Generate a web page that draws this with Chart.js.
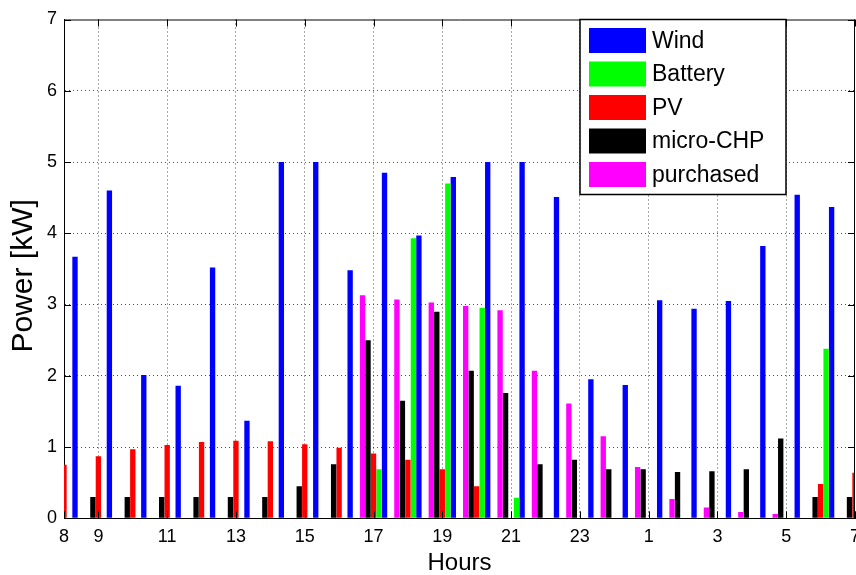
<!DOCTYPE html>
<html>
<head>
<meta charset="utf-8">
<script src="https://cdn.jsdelivr.net/npm/chart.js@4.4.1/dist/chart.umd.min.js"></script>
<style>
html,body{margin:0;padding:0;background:#fff;overflow:hidden}
#wrap{width:856px;height:575px;position:relative}
</style>
</head>
<body>
<div id="wrap"><canvas id="c" width="856" height="575"></canvas></div>
<script>
// ---- data ----
const hours = [8,9,10,11,12,13,14,15,16,17,18,19,20,21,22,23,24,25,26,27,28,29,30,31];
const hourLabels = hours.map(h => String(h % 24));
const xTickHours = [8,9,11,13,15,17,19,21,23,25,27,29,31];
const yTicks = [0,1,2,3,4,5,6,7];

const wind      = [3.67,4.60,2.01,1.86,3.52,1.37,5.00,5.00,3.48,4.85,3.97,4.79,5.00,5.00,4.51,1.95,1.87,3.06,2.94,3.05,3.82,4.54,4.37,4.20];
const battery   = [0,0,0,0,0,0,0,0,0,0.69,3.93,4.70,2.95,0.29,0,0,0,0,0,0,0,0,2.38,0];
const pv        = [0.75,0.87,0.97,1.03,1.07,1.09,1.08,1.04,0.99,0.91,0.82,0.69,0.45,0,0,0,0,0,0,0,0,0,0.48,0.64];
const microCHP  = [0.30,0.30,0.30,0.30,0.30,0.30,0.30,0.45,0.76,2.50,1.65,2.90,2.07,1.76,0.76,0.82,0.69,0.69,0.65,0.66,0.69,1.12,0.30,0.30];
const purchased = [0,0,0,0,0,0,0,0,0,3.13,3.07,3.03,2.98,2.92,2.07,1.61,1.15,0.72,0.27,0.15,0.09,0.06,0,0];

const FONT = '"Liberation Sans", Arial, Helvetica, sans-serif';
const GRID = 'rgba(60,60,60,0.9)';
const Y_TITLE = 'Power [kW]';

const isMajor = i => xTickHours.includes(hours[i]);

// MATLAB-like box, inner ticks
const boxPlugin = {
  id: 'matlabBox',
  afterDatasetsDraw(chart) {
    const {ctx, chartArea: a, scales} = chart;
    ctx.save();
    ctx.strokeStyle = '#000';
    ctx.lineWidth = 1;
    ctx.beginPath();
    ctx.moveTo(a.left, a.top + 0.5); ctx.lineTo(a.right, a.top + 0.5);
    ctx.moveTo(a.right - 0.5, a.top); ctx.lineTo(a.right - 0.5, a.bottom);
    const tl = 7;
    scales.x.ticks.forEach((t, i) => {
      if (!isMajor(i)) return;
      const x = Math.round(scales.x.getPixelForTick(i)) + 0.5;
      ctx.moveTo(x, a.bottom); ctx.lineTo(x, a.bottom - tl);
      ctx.moveTo(x, a.top); ctx.lineTo(x, a.top + tl);
    });
    scales.y.ticks.forEach((t, i) => {
      const y = Math.round(scales.y.getPixelForTick(i)) + 0.5;
      ctx.moveTo(a.left, y); ctx.lineTo(a.left + tl, y);
      ctx.moveTo(a.right, y); ctx.lineTo(a.right - tl, y);
    });
    ctx.stroke();
    // y-axis title, placed like the MATLAB label
    ctx.save();
    ctx.translate(24, (a.top + a.bottom) / 2 + 7);
    ctx.rotate(-Math.PI / 2);
    ctx.font = '30px ' + FONT;
    ctx.fillStyle = '#000';
    ctx.textAlign = 'center';
    ctx.textBaseline = 'middle';
    ctx.fillText(Y_TITLE, 0, 0);
    ctx.restore();
    ctx.restore();
  }
};

// MATLAB-like legend box inside the axes (top right)
const legendPlugin = {
  id: 'matlabLegend',
  afterDraw(chart) {
    const ctx = chart.ctx;
    const a = chart.chartArea;
    const items = chart.data.datasets.slice().reverse();
    const x0 = 580, y0 = a.top, w = 206, h = 175;
    ctx.save();
    ctx.fillStyle = '#fff';
    ctx.fillRect(x0, y0, w, h);
    ctx.strokeStyle = '#000';
    ctx.lineWidth = 1.5;
    ctx.strokeRect(x0, y0, w, h);
    ctx.font = '23px ' + FONT;
    ctx.textBaseline = 'middle';
    ctx.textAlign = 'left';
    items.forEach((ds, i) => {
      const cy = y0 + 21 + i * 33.5;
      ctx.fillStyle = ds.backgroundColor;
      ctx.fillRect(x0 + 9, cy - 12.5, 57, 25);
      ctx.fillStyle = '#000';
      ctx.fillText(ds.label, x0 + 72, cy + 1);
    });
    ctx.restore();
  }
};

const mk = (label, data, color) => ({
  label, data, backgroundColor: color, borderWidth: 0,
  categoryPercentage: 0.8, barPercentage: 0.97
});

new Chart(document.getElementById('c'), {
  type: 'bar',
  data: {
    labels: hourLabels,
    datasets: [
      mk('purchased', purchased, '#ff00ff'),
      mk('micro-CHP', microCHP, '#000000'),
      mk('PV', pv, '#ff0000'),
      mk('Battery', battery, '#00ff00'),
      mk('Wind', wind, '#0000ff')
    ]
  },
  options: {
    responsive: false,
    animation: false,
    devicePixelRatio: 1,
    layout: { padding: { top: 19.5, right: 1, left: 0, bottom: 0 } },
    plugins: { legend: { display: false }, tooltip: { enabled: false } },
    scales: {
      x: {
        type: 'category',
        offset: false,
        grid: {
          offset: false,
          drawTicks: false,
          lineWidth: 1,
          color: ctx => (isMajor(ctx.index) && ctx.index > 0 && ctx.index < hours.length - 1) ? GRID : 'transparent'
        },
        border: { display: true, color: '#000', width: 1, dash: [1, 3] },
        ticks: {
          autoSkip: false, maxRotation: 0, minRotation: 0, padding: 8,
          color: '#000', font: { size: 18, family: FONT },
          callback: (v, i) => isMajor(i) ? hourLabels[i] : ''
        },
        title: {
          display: true, text: 'Hours', color: '#000',
          font: { size: 24, family: FONT, lineHeight: 1 },
          padding: { top: 0, bottom: 0 }
        },
        afterFit: s => { s.height = 56.7; s.paddingLeft = 0; s.paddingRight = 0; }
      },
      y: {
        min: 0, max: 7,
        afterBuildTicks: s => { s.ticks = yTicks.map(v => ({ value: v })); },
        grid: {
          drawTicks: false,
          lineWidth: 1,
          color: ctx => (ctx.tick && ctx.tick.value > 0 && ctx.tick.value < 7) ? GRID : 'transparent'
        },
        border: { display: true, color: '#000', width: 1, dash: [1, 3] },
        ticks: { padding: 7, color: '#000', font: { size: 18, family: FONT } },
        title: { display: false },
        afterFit: s => { s.width = 64; s.paddingTop = 0; s.paddingBottom = 0; }
      }
    }
  },
  plugins: [boxPlugin, legendPlugin]
});
</script>
</body>
</html>
